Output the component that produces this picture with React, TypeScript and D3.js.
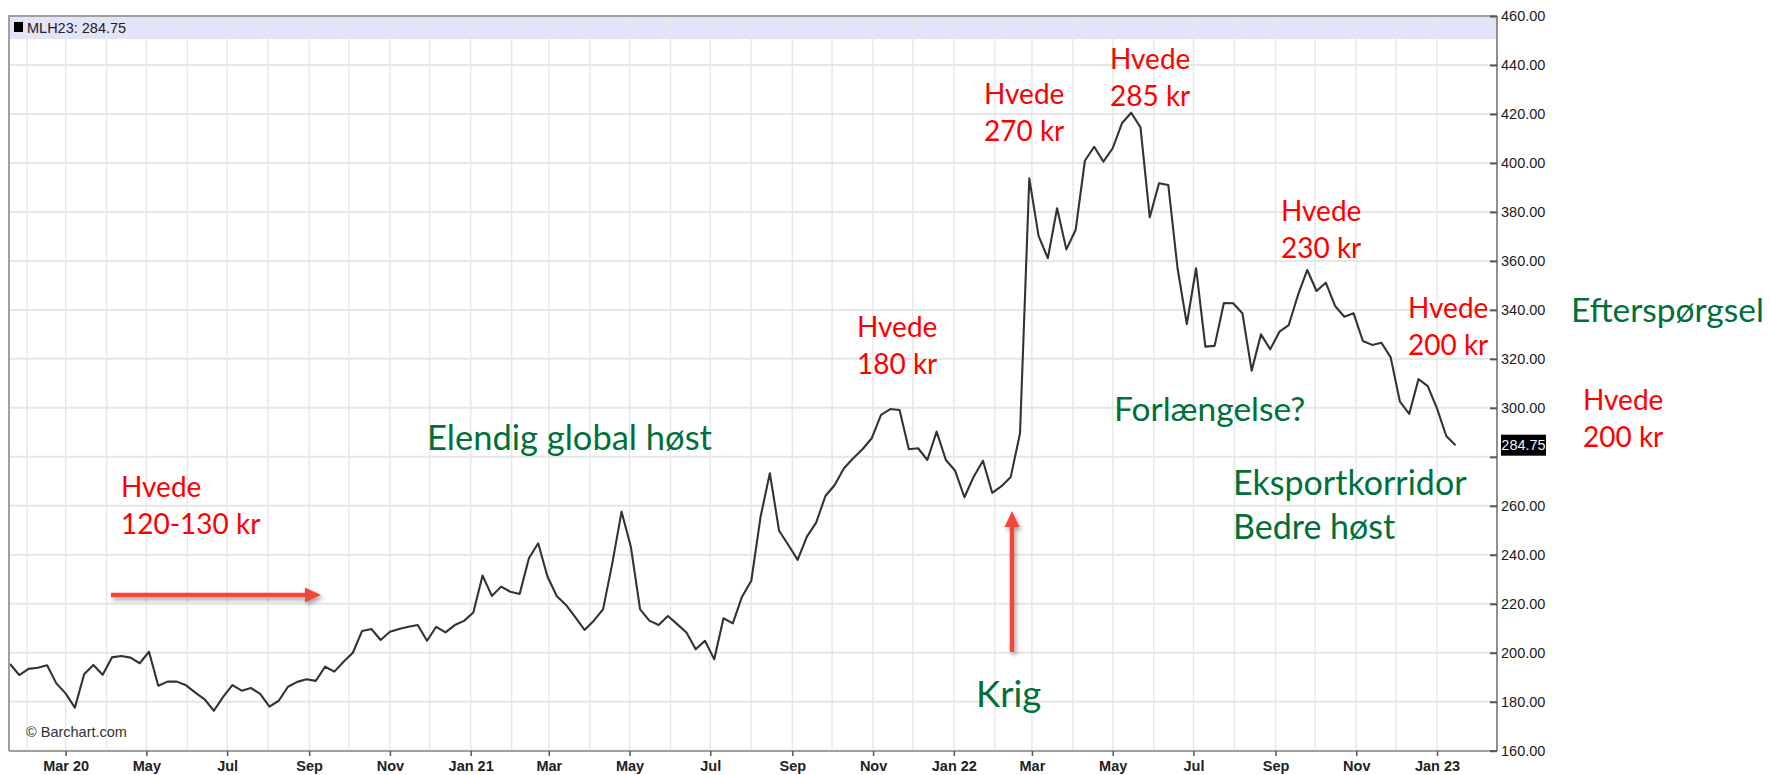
import React, { useEffect, useRef } from "react";
import * as d3 from "d3";

// weekly closes, Milling wheat (MLH23), EUR/t
const firstWeek = new Date(2020, 0, 19);
const prices = [
  195.4, 190.9, 193.4, 193.9, 194.9, 187.5, 183.4, 177.6, 191.2, 195.0,
  191.0, 198.1, 198.7, 198.0, 195.7, 200.4, 186.5, 188.2, 188.2, 186.7,
  183.7, 181.0, 176.3, 182.0, 186.8, 184.5, 185.6, 183.2, 178.0, 180.4,
  186.1, 188.1, 189.2, 188.5, 194.3, 192.3, 196.3, 200.0, 208.9, 209.7,
  205.2, 208.6, 209.7, 210.6, 211.3, 204.9, 210.6, 208.3, 211.3, 213.0,
  216.4, 231.5, 223.2, 227.0, 224.9, 224.0, 238.6, 244.7, 231.1, 223.2,
  219.5, 214.5, 209.3, 213.1, 217.7, 236.5, 257.6, 243.3, 217.7, 213.1,
  211.3, 215.0, 211.7, 208.3, 201.4, 204.9, 197.3, 214.1, 212.0, 222.9,
  229.4, 255.5, 273.3, 249.8, 244.0, 237.9, 247.4, 253.1, 264.0, 268.5,
  275.3, 279.4, 283.1, 287.6, 297.1, 299.5, 299.1, 283.1, 283.5, 278.7,
  290.3, 278.7, 274.3, 263.5, 271.9, 278.4, 265.3, 268.0, 271.8, 289.6,
  393.7, 370.2, 361.1, 381.5, 364.7, 372.6, 400.9, 406.6, 400.5, 406.0,
  416.2, 420.5, 414.5, 377.8, 391.7, 391.0, 357.0, 334.2, 357.0, 325.0,
  325.3, 342.8, 342.7, 338.6, 315.2, 330.0, 323.9, 331.1, 333.8, 346.1,
  356.3, 347.7, 351.1, 341.6, 337.2, 338.6, 327.3, 325.7, 326.6, 320.6,
  302.5, 297.5, 311.7, 308.9, 299.8, 288.5, 284.75,
];
const yTicks = [160, 180, 200, 220, 240, 260, 280, 300, 320, 340, 360, 380, 400, 420, 440, 460];
const symbol = "MLH23";
const lastPrice = 284.75;

const redNotes = [
  ["Hvede", "120-130 kr"],
  ["Hvede", "180 kr"],
  ["Hvede", "270 kr"],
  ["Hvede", "285 kr"],
  ["Hvede", "230 kr"],
  ["Hvede", "200 kr"],
  ["Hvede", "200 kr"],
];
const greenNotes = [
  ["Elendig global høst"],
  ["Forlængelse?"],
  ["Eksportkorridor", "Bedre høst"],
  ["Efterspørgsel"],
  ["Krig"],
];

function App() {
  const svgRef = useRef(null);

  useEffect(() => {
    const W = 1771;
    const H = 775;
    const L = 9;
    const R = 1497;
    const T = 16;
    const B = 751;

    const svg = d3.select(svgRef.current).attr("width", W).attr("height", H);
    svg.selectAll("*").remove();

    const defs = svg.append("defs");
    const f = defs.append("filter").attr("id", "shadow").attr("x", "-20%").attr("y", "-50%").attr("width", "140%").attr("height", "200%");
    f.append("feDropShadow").attr("dx", 2).attr("dy", 3).attr("stdDeviation", 2).attr("flood-color", "#000").attr("flood-opacity", 0.35);
    defs.append("clipPath").attr("id", "plot").append("rect").attr("x", L).attr("y", T).attr("width", R - L).attr("height", B - T);

    const dates = prices.map((_, i) => d3.timeDay.offset(firstWeek, 7 * i));

    const x = d3.scaleTime().domain([new Date(2020, 2, 1), new Date(2023, 0, 1)]).range([65.6, 1437]);
    const y = d3.scaleLinear().domain([160, 460]).range([750.7, T]);

    svg.append("rect").attr("width", W).attr("height", H).attr("fill", "#fff");

    // header band
    svg.append("rect").attr("x", L).attr("y", T).attr("width", R - L).attr("height", 23).attr("fill", "#e4e4f9");

    const months = d3.timeMonth.range(new Date(2020, 1, 1), new Date(2023, 1, 1));

    // grid
    svg.append("g").selectAll("line").data(months).join("line")
      .attr("x1", (d) => x(d)).attr("x2", (d) => x(d))
      .attr("y1", T).attr("y2", B)
      .attr("stroke", "#e8e8e8").attr("stroke-width", 1.5);
    svg.append("g").selectAll("line").data(yTicks).join("line")
      .attr("x1", L).attr("x2", R)
      .attr("y1", (d) => y(d)).attr("y2", (d) => y(d))
      .attr("stroke", "#e6e6e6").attr("stroke-width", 2);

    // header label
    svg.append("rect").attr("x", 14).attr("y", 22).attr("width", 9).attr("height", 10).attr("fill", "#000");
    svg.append("text").attr("x", 27).attr("y", 33)
      .attr("font-family", "Liberation Sans, Arial, sans-serif").attr("font-size", 14.5).attr("fill", "#222")
      .text(`${symbol}: ${lastPrice.toFixed(2)}`);

    // price line
    const line = d3.line<number>().x((_, i) => x(dates[i])).y((d) => y(d));
    svg.append("path").datum(prices)
      .attr("clip-path", "url(#plot)")
      .attr("d", line)
      .attr("fill", "none").attr("stroke", "#333").attr("stroke-width", 2.1).attr("stroke-linejoin", "round");

    svg.append("text").attr("x", 26).attr("y", 737)
      .attr("font-family", "Liberation Sans, Arial, sans-serif").attr("font-size", 14.5).attr("fill", "#333")
      .text("© Barchart.com");

    // frame
    svg.append("path")
      .attr("d", `M${L},${B}V${T}H${R}`)
      .attr("fill", "none").attr("stroke", "#a0a0a0").attr("stroke-width", 2);

    // x axis
    const labeled = months.filter((d) => d.getMonth() % 2 === 0);
    const xAxis = d3.axisBottom(x).tickValues(labeled).tickSizeInner(5).tickSizeOuter(0).tickPadding(6)
      .tickFormat((d: any, i) => (d.getMonth() === 0 || i === 0 ? d3.timeFormat("%b %y")(d) : d3.timeFormat("%b")(d)));
    const gx = svg.append("g").attr("transform", `translate(0,${B})`).call(xAxis);
    gx.select(".domain").attr("d", `M${L},0H${R}`).attr("stroke", "#a0a0a0").attr("stroke-width", 2);
    gx.selectAll(".tick line").attr("stroke", "#555").attr("stroke-width", 1.5);
    gx.selectAll(".tick text")
      .attr("font-family", "Liberation Sans, Arial, sans-serif").attr("font-size", 14.5).attr("font-weight", "bold")
      .attr("fill", "#222").attr("dy", null).attr("y", 20);

    // y axis
    const yAxis = d3.axisRight(y).tickValues(yTicks).tickSizeInner(-7).tickSizeOuter(0).tickPadding(4)
      .tickFormat((d: any) => (d === 280 ? "" : d3.format(".2f")(d)));
    const gy = svg.append("g").attr("transform", `translate(${R},0)`).call(yAxis);
    gy.select(".domain").attr("d", `M0,${T}V${B}`).attr("stroke", "#909090").attr("stroke-width", 2);
    gy.selectAll(".tick line").attr("stroke", "#555").attr("stroke-width", 2);
    gy.selectAll(".tick text")
      .attr("font-family", "Liberation Sans, Arial, sans-serif").attr("font-size", 14.5).attr("fill", "#1a1a1a");

    // last price box
    const ly = y(lastPrice);
    svg.append("rect").attr("x", R + 4).attr("y", ly - 10.5).attr("width", 45).attr("height", 21).attr("fill", "#000");
    svg.append("text").attr("x", R + 26.5).attr("y", ly).attr("dy", "0.36em").attr("text-anchor", "middle")
      .attr("font-family", "Liberation Sans, Arial, sans-serif").attr("font-size", 14.5).attr("fill", "#eaf2ff")
      .text(lastPrice.toFixed(2));

    // arrows
    const red = "#f2473d";
    const arrows = svg.append("g").attr("filter", "url(#shadow)");
    arrows.append("line").attr("x1", 111).attr("x2", 308).attr("y1", 595).attr("y2", 595).attr("stroke", red).attr("stroke-width", 4.5);
    arrows.append("path").attr("d", "M305,587.5L321,595L305,602.5Z").attr("fill", red);
    arrows.append("line").attr("x1", 1012).attr("x2", 1012).attr("y1", 652).attr("y2", 524).attr("stroke", red).attr("stroke-width", 4.5);
    arrows.append("path").attr("d", "M1004.5,527L1012,511L1019.5,527Z").attr("fill", red);

    // notes
    const noteFont = "Lato, 'Open Sans', sans-serif";
    const redPos = [[121, 497], [857, 337], [984, 104], [1110, 69], [1281, 221], [1408, 318], [1583, 410]];
    redNotes.forEach((lines, i) => {
      const t = svg.append("text").attr("font-family", noteFont).attr("font-size", 28).attr("fill", "#ff0000");
      lines.forEach((s, j) => {
        t.append("tspan").attr("x", redPos[i][0]).attr("y", redPos[i][1] + j * 37).text(s);
      });
    });
    const greenPos = [[427, 450, 34.5], [1114, 421, 33.5], [1233, 495, 34], [1571, 322, 33.5], [976, 707, 36.5]];
    greenNotes.forEach((lines, i) => {
      const t = svg.append("text").attr("font-family", noteFont).attr("font-size", greenPos[i][2]).attr("fill", "#00703a");
      lines.forEach((s, j) => {
        t.append("tspan").attr("x", greenPos[i][0]).attr("y", greenPos[i][1] + j * 44).text(s);
      });
    });
  }, []);

  return (
    <div style={{ position: "absolute", left: 0, top: 0 }}>
      <svg ref={svgRef} style={{ display: "block" }}></svg>
    </div>
  );
}

export default App;
